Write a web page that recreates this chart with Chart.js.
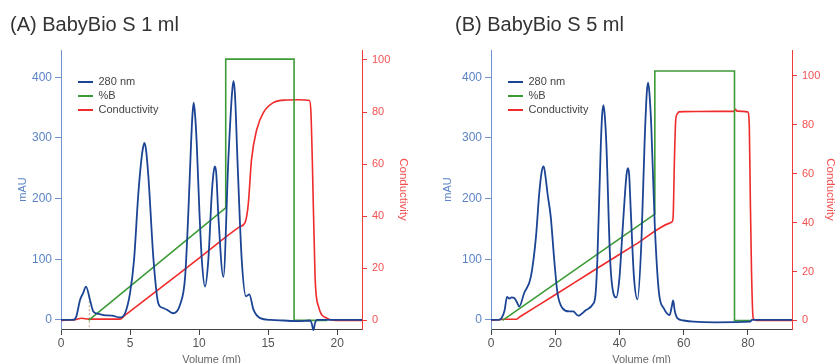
<!DOCTYPE html>
<html>
<head>
<meta charset="utf-8">
<script src="https://cdn.jsdelivr.net/npm/chart.js@4.4.1/dist/chart.umd.min.js"></script>
<style>
  body { margin: 0; background: #fff; overflow: hidden; }
  .panel { position: absolute; top: 0; height: 375px; }
  #panel-a { left: 0; width: 420px; }
  #panel-b { left: 430px; width: 408px; }
</style>
</head>
<body>
<div class="panel" id="panel-a"><canvas id="chart-a" width="420" height="375"></canvas></div>
<div class="panel" id="panel-b"><canvas id="chart-b" width="408" height="375"></canvas></div>
<script>
// tick labels
const mauTicks = [0, 100, 200, 300, 400];
const condTicks = [0, 20, 40, 60, 80, 100];
const volTicksA = [0, 5, 10, 15, 20];
const volTicksB = [0, 20, 40, 60, 80];

// (A) BabyBio S 1 ml
const a280x = [0, 0.9, 1.1, 1.38, 1.6, 1.81, 2.1, 2.34, 2.7, 3.1, 3.7, 4.28, 4.64, 5.0, 5.29, 5.6, 5.85, 5.95, 6.04, 6.15, 6.33, 6.7, 7.05, 7.35, 7.66, 8.14, 8.62, 8.99, 9.23, 9.42, 9.52, 9.61, 9.71, 9.83, 10.02, 10.2, 10.43, 10.67, 10.92, 11.05, 11.14, 11.24, 11.4, 11.76, 12.12, 12.38, 12.49, 12.6, 12.78, 13.09, 13.4, 13.64, 13.94, 14.42, 15.2, 16.1, 17.2, 18.04, 18.16, 18.28, 18.4, 18.55, 19.5, 21.8];
const a280y = [0, 0, 5, 33, 44, 55, 33, 14, 10, 8, 7, 4, 11, 44, 99, 208, 270, 285, 292, 282, 236, 99, 27, 20, 17, 11, 25, 71, 181, 291, 338, 358, 338, 291, 181, 99, 55, 99, 208, 243, 253, 243, 170, 71, 264, 372, 394, 372, 264, 99, 39, 42, 17, 3, 0, -1, -2, -1, -6, -17, -5, 0, 0, 0];
const aBx = [2.0, 11.93, 11.93, 16.88, 16.88, 19.25];
const aBy = [0, 43.2, 100.3, 100.3, 0, 0];
const aCondX = [0, 1.0, 1.5, 2.0, 3.9, 4.28, 4.6, 7.0, 10.07, 12.9, 13.33, 13.45, 13.57, 13.8, 14.18, 14.66, 15.38, 16.35, 17.2, 18.0, 18.1, 18.2, 18.4, 18.65, 19.25, 19.9, 21.8];
const aCondY = [0, 0.3, 0.8, 0.5, 0.5, 0.5, 1.8, 11.6, 24.2, 35.8, 37.5, 40, 45, 61.8, 73.3, 79.8, 83.6, 84.6, 84.7, 84.4, 80, 61.8, 16.9, 5.4, 0.9, 0, 0];
const aInjectX = [2.05, 2.05];
const aInjectY = [-12, 38];

// (B) BabyBio S 5 ml
const b280x = [0, 2.5, 3.3, 4.2, 5.0, 5.7, 6.4, 7.2, 8.0, 8.8, 10.3, 12.4, 14.0, 15.0, 15.8, 16.4, 17.0, 17.6, 18.6, 19.7, 20.7, 22.3, 24.3, 25.6, 27.1, 29.5, 31.6, 32.5, 33.1, 34.2, 34.6, 35.0, 35.4, 35.9, 37.1, 38.1, 39.0, 40.0, 40.7, 41.7, 42.2, 42.6, 43.0, 43.5, 44.5, 45.6, 46.8, 47.8, 48.5, 48.9, 49.3, 49.9, 51.0, 52.3, 53.8, 55.6, 56.2, 56.7, 57.2, 58.0, 60, 63.1, 70, 80.7, 81.2, 93.7];
const b280y = [0, 0, 3, 15, 38, 35, 37, 36, 30, 22, 44, 71, 137, 208, 245, 253, 235, 208, 170, 98, 44, 19, 14, 14, 7, 16, 25, 40, 98, 291, 338, 354, 338, 291, 98, 44, 37, 70, 126, 208, 240, 250, 240, 181, 71, 34, 126, 291, 375, 391, 375, 319, 154, 44, 19, 8, 20, 32, 15, 3, -1, -3, -4, -3, 0, 0];
const bBx = [3.6, 51.0, 51.0, 75.8, 75.8, 80.7];
const bBy = [0, 43.5, 102, 102, 0, 0];
const bCondX = [0, 4, 7.4, 7.8, 9.0, 20, 31.1, 45, 55.6, 56.4, 56.7, 57.1, 57.5, 58.0, 58.5, 60, 70, 75.6, 76.1, 76.6, 79.9, 80.4, 80.7, 81.1, 81.6, 82.5, 93.7];
const bCondY = [0, 0.5, 0.5, 0.5, 1.5, 10.5, 19.7, 31.1, 39.8, 40.4, 42.4, 65.6, 81.9, 84.5, 85.3, 85.4, 85.5, 85.5, 86.3, 85.6, 85.3, 80, 52, 20, 1, 0, 0];

const BLUE = '#1b4594';
const GREEN = '#3c9b36';
const RED = '#ef2b2b';

Chart.defaults.font.family = '"Liberation Sans", Arial, sans-serif';

const pts = (xs, ys) => xs.map((x, i) => ({x: x, y: ys[i]}));

// moves the legend inside the plot, next to the left axis
const legendSpot = {
    id: 'legendSpot',
    afterLayout(chart) {
        const lg = chart.legend;
        lg.left = chart.chartArea.left + 14;
        lg.top = chart.chartArea.top + 23.5;
    }
};

function makeChart(el, o) {
    return new Chart(el, {
        type: 'line',
        data: {
            datasets: [
                {label: '280 nm', data: pts(o.blueX, o.blueY), borderColor: BLUE, backgroundColor: BLUE,
                 borderWidth: 1.8, pointRadius: 0, cubicInterpolationMode: 'monotone', yAxisID: 'y', clip: false},
                {label: '%B', data: pts(o.greenX, o.greenY), borderColor: GREEN, backgroundColor: GREEN,
                 borderWidth: 1.6, pointRadius: 0, tension: 0, yAxisID: 'cond'},
                {label: 'Conductivity', data: pts(o.redX, o.redY), borderColor: RED, backgroundColor: RED,
                 borderWidth: 1.6, pointRadius: 0, cubicInterpolationMode: 'monotone', yAxisID: 'cond'},
                {label: '', data: o.inject, borderColor: '#c9a582', borderWidth: 1, borderDash: [2, 2],
                 pointRadius: 0, yAxisID: 'y', clip: false}
            ]
        },
        options: {
            responsive: false,
            animation: false,
            layout: {padding: {left: o.padLeft, top: 0, right: 0, bottom: 0}},
            plugins: {
                title: {
                    display: true, text: o.title, align: 'start', color: '#333',
                    font: {size: 20, weight: 'normal'}, padding: {top: 13, bottom: 13}
                },
                legend: {
                    position: 'chartArea',
                    align: 'start',
                    labels: {
                        boxWidth: 15, boxHeight: 2, padding: 3, color: '#444', font: {size: 11},
                        generateLabels: chart => Chart.defaults.plugins.legend.labels.generateLabels(chart)
                            .filter(l => l.text !== '')
                            .map(l => Object.assign(l, {lineWidth: 0}))
                    }
                },
                tooltip: {enabled: false}
            },
            scales: {
                x: {
                    type: 'linear', position: 'bottom', min: 0, max: o.volMax,
                    afterFit: s => { s.height = 46; },
                    afterBuildTicks: s => { s.ticks = o.volTicks.map(v => ({value: v})); },
                    border: {color: '#444', width: 1},
                    grid: {drawOnChartArea: false, tickLength: 6, color: '#444'},
                    ticks: {color: '#555', font: {size: 12}, padding: 1, maxRotation: 0},
                    title: {display: true, text: 'Volume (ml)', color: '#666', font: {size: 11},
                            padding: {top: 0, bottom: 8.4}}
                },
                y: {
                    type: 'linear', position: 'left', min: -15, max: 445,
                    afterFit: s => { s.width = 61 - o.padLeft; },
                    afterBuildTicks: s => { s.ticks = mauTicks.map(v => ({value: v})); },
                    border: {color: '#7093cb', width: 1},
                    grid: {drawOnChartArea: false, tickLength: 6, color: '#7093cb'},
                    ticks: {color: '#5b84c4', font: {size: 12}, padding: 3},
                    title: {display: true, text: 'mAU', color: '#5b84c4', font: {size: 11},
                            padding: {top: o.mauPad, bottom: 0}}
                },
                cond: {
                    type: 'linear', position: 'right', min: o.condMin, max: o.condMax,
                    afterFit: s => { s.width = o.rightW; },
                    afterBuildTicks: s => { s.ticks = condTicks.map(v => ({value: v})); },
                    border: {color: '#f03a3a', width: 1},
                    grid: {drawOnChartArea: false, tickLength: 5, color: '#f03a3a'},
                    ticks: {color: '#f25252', font: {size: 11}, padding: 5},
                    title: {display: true, text: 'Conductivity', color: '#f25050', font: {size: 11.5},
                            padding: {top: o.condPad, bottom: 0}}
                }
            }
        },
        plugins: [legendSpot]
    });
}

makeChart(document.getElementById('chart-a'), {
    title: '(A) BabyBio S 1 ml',
    blueX: a280x, blueY: a280y, greenX: aBx, greenY: aBy, redX: aCondX, redY: aCondY,
    inject: pts(aInjectX, aInjectY),
    volMax: 21.8, volTicks: volTicksA, condMin: -3.3, condMax: 103.8,
    padLeft: 10, mauPad: 6.4, rightW: 58, condPad: 9.8
});

makeChart(document.getElementById('chart-b'), {
    title: '(B) BabyBio S 5 ml',
    blueX: b280x, blueY: b280y, greenX: bBx, greenY: bBy, redX: bCondX, redY: bCondY,
    inject: [],
    volMax: 93.7, volTicks: volTicksB, condMin: -3.5, condMax: 110.6,
    padLeft: 25, mauPad: -13.3, rightW: 46, condPad: 0.5
});
</script>
</body>
</html>
